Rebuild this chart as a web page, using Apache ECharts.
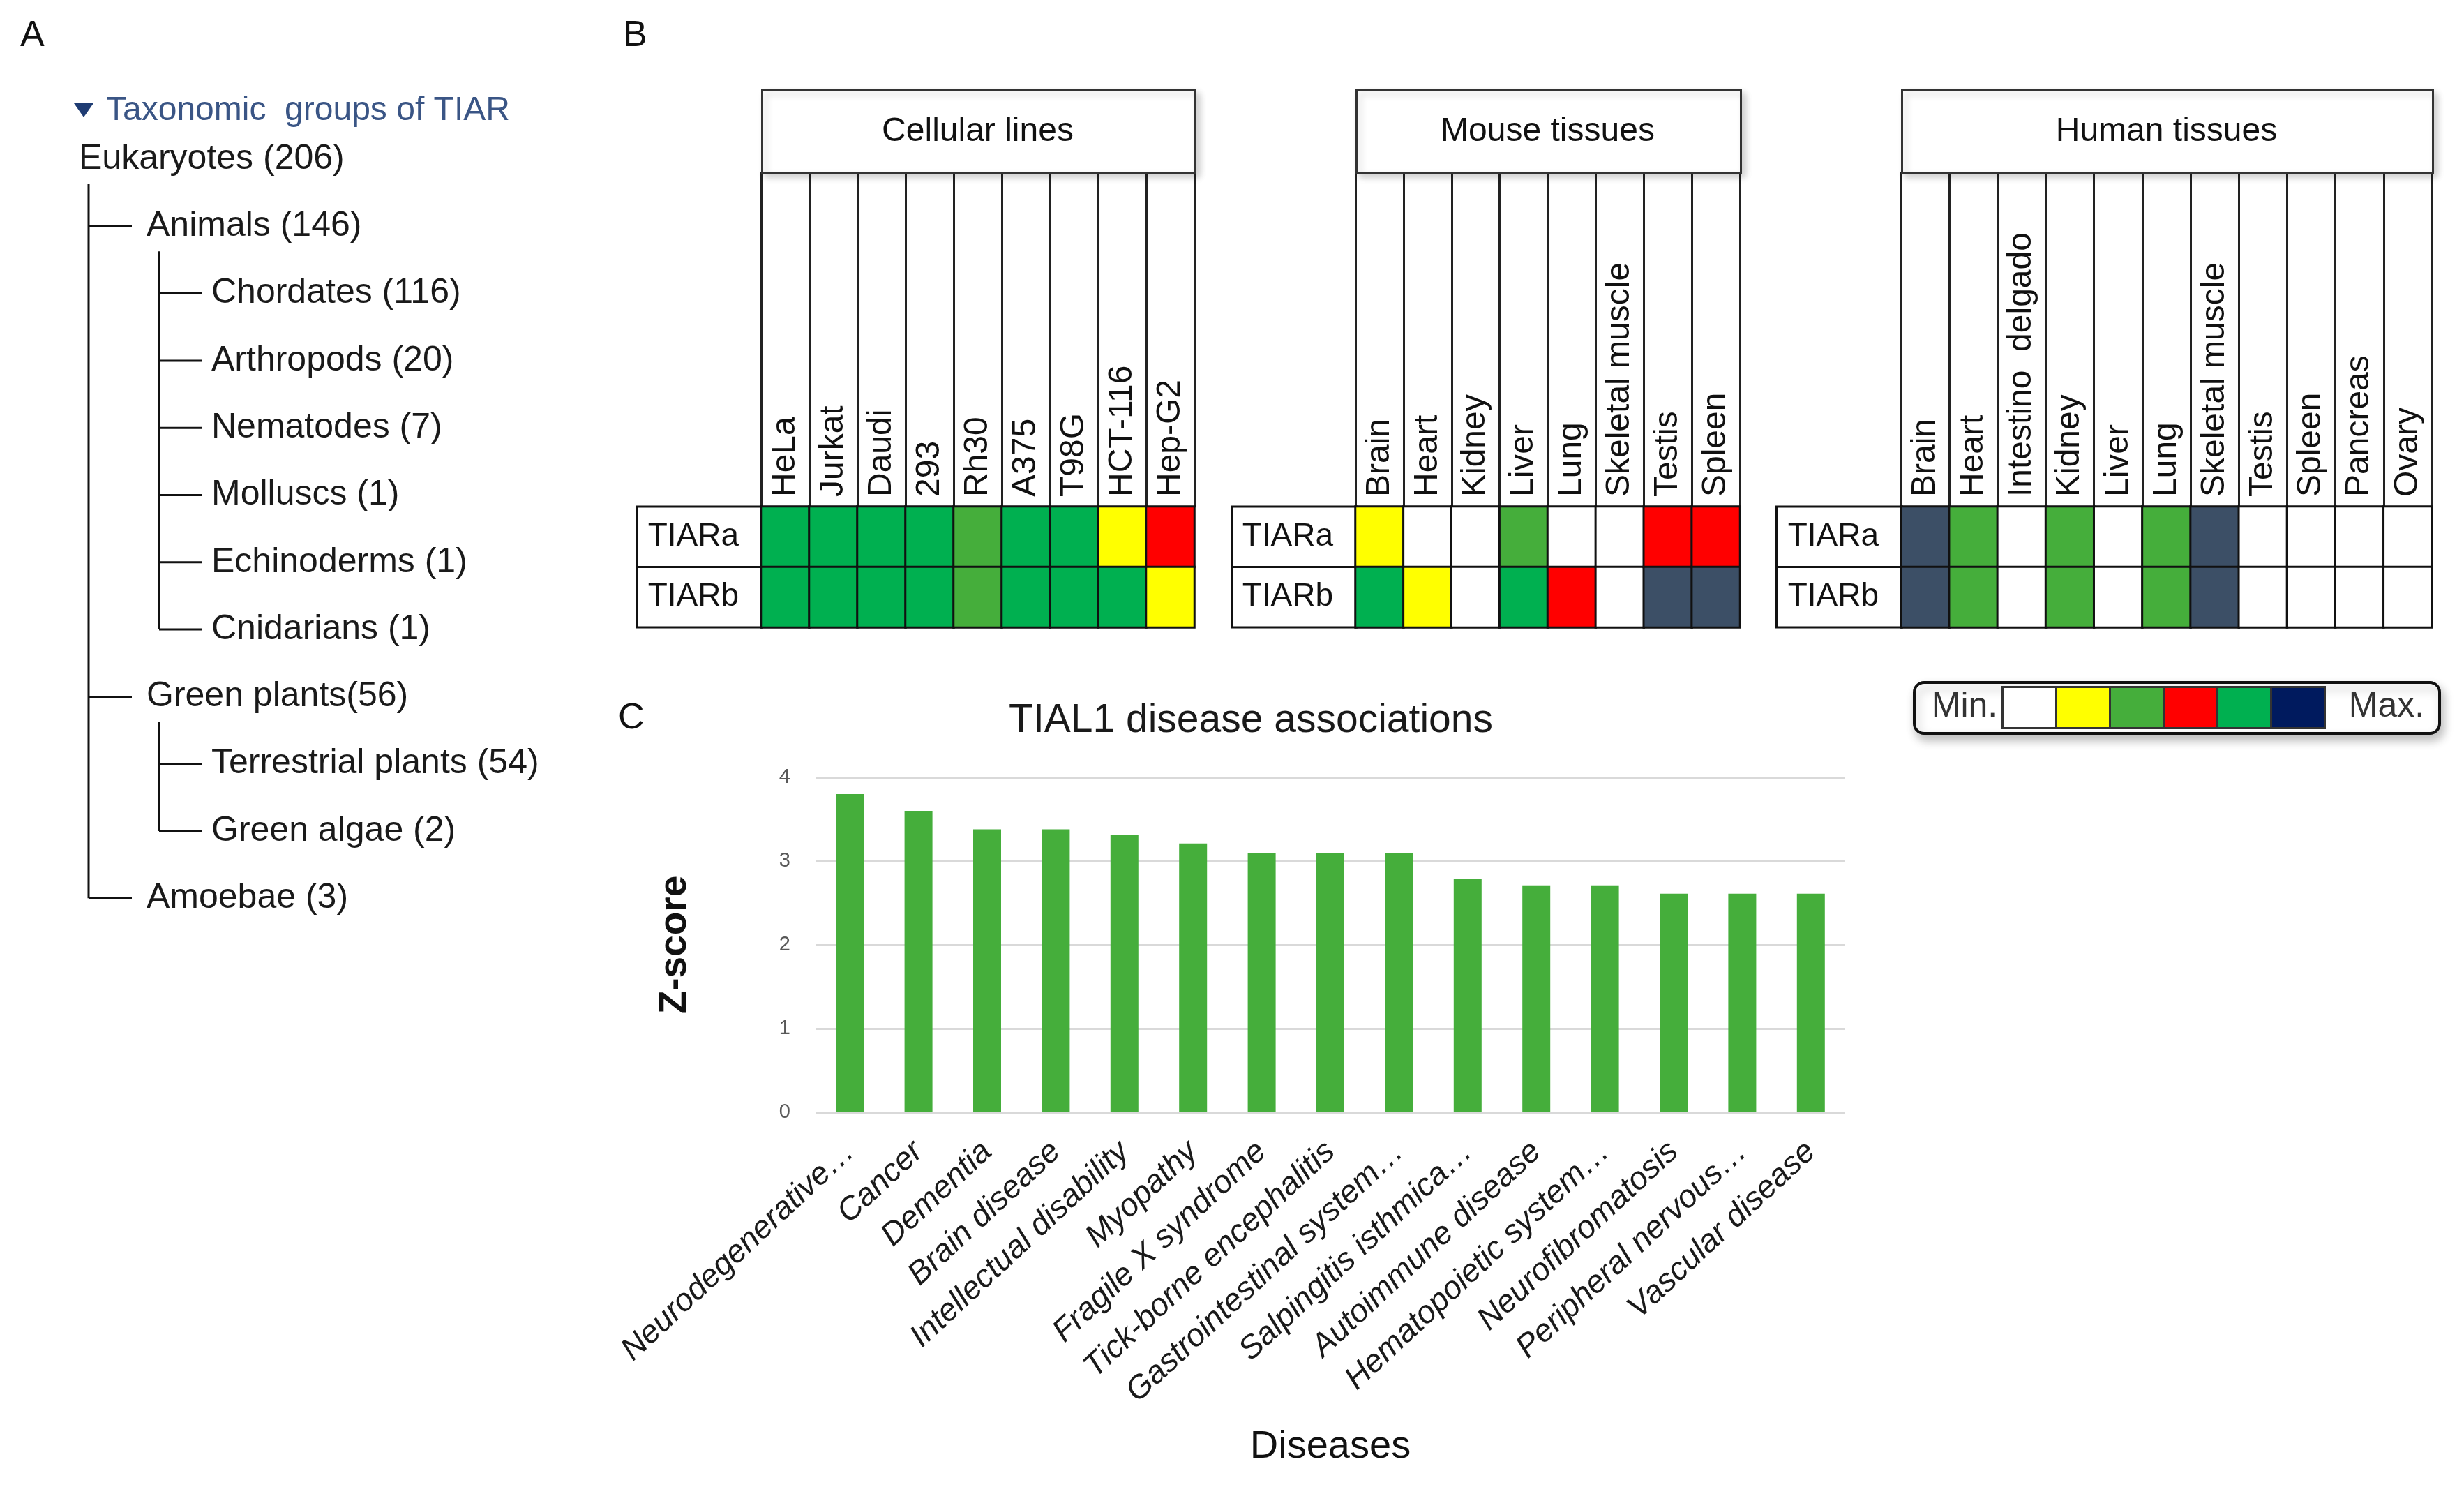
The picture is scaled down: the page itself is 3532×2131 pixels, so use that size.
<!DOCTYPE html>
<html>
<head>
<meta charset="utf-8">
<script src="https://cdn.jsdelivr.net/npm/echarts@6.0.0/dist/echarts.min.js"></script>
<style>
  html, body { margin: 0; padding: 0; background: #ffffff; }
  #chart { width: 3532px; height: 2131px; }
</style>
</head>
<body>
<div id="chart"></div>
<script>
// ---------------- DATA ----------------
// Panel A: taxonomic tree
const taxaNames  = ['Eukaryotes', 'Animals', 'Chordates', 'Arthropods', 'Nematodes', 'Molluscs', 'Echinoderms', 'Cnidarians', 'Green plants', 'Terrestrial plants', 'Green algae', 'Amoebae'];
const taxaCounts = [206, 146, 116, 20, 7, 1, 1, 1, 56, 54, 2, 3];
const taxaDepth  = [0, 1, 2, 2, 2, 2, 2, 2, 1, 2, 2, 1];
const treeTitle  = 'Taxonomic  groups of TIAR';

// Panel B: expression heatmaps (levels 0..5 -> Min..Max)
const isoforms = ['TIARa', 'TIARb'];
const cellLines = ['HeLa', 'Jurkat', 'Daudi', '293', 'Rh30', 'A375', 'T98G', 'HCT-116', 'Hep-G2'];
const cellTIARa = [4, 4, 4, 4, 2, 4, 4, 1, 3];
const cellTIARb = [4, 4, 4, 4, 2, 4, 4, 4, 1];
const mouseTissues = ['Brain', 'Heart', 'Kidney', 'Liver', 'Lung', 'Skeletal muscle', 'Testis', 'Spleen'];
const mouseTIARa = [1, 0, 0, 2, 0, 0, 3, 3];
const mouseTIARb = [4, 1, 0, 4, 3, 0, 5, 5];
const humanTissues = ['Brain', 'Heart', 'Intestino  delgado', 'Kidney', 'Liver', 'Lung', 'Skeletal muscle', 'Testis', 'Spleen', 'Pancreas', 'Ovary'];
const humanTIARa = [5, 2, 0, 2, 0, 2, 5, 0, 0, 0, 0];
const humanTIARb = [5, 2, 0, 2, 0, 2, 5, 0, 0, 0, 0];
const panelTitles = ['Cellular lines', 'Mouse tissues', 'Human tissues'];
const levelLabels = ['Min.', 'Max.'];

// Panel C: disease associations
const diseases = ['Neurodegenerative…', 'Cancer', 'Dementia', 'Brain disease', 'Intellectual disability', 'Myopathy', 'Fragile X syndrome', 'Tick-borne encephalitis', 'Gastrointestinal system…', 'Salpingitis isthmica…', 'Autoimmune disease', 'Hematopoietic system…', 'Neurofibromatosis', 'Peripheral nervous…', 'Vascular disease'];
const zScores = [3.80, 3.60, 3.38, 3.38, 3.31, 3.21, 3.10, 3.10, 3.10, 2.79, 2.71, 2.71, 2.61, 2.61, 2.61];
const yTicks = [0, 1, 2, 3, 4];

// ---------------- STYLE ----------------
const FONT = "'Liberation Sans', Arial, sans-serif";
const NARROW = "'Liberation Sans Narrow', 'Liberation Sans', Arial, sans-serif";
const cellColors = ['#FFFFFF', '#FFFF00', '#45AE3B', '#FF0000', '#00B050', '#3C4F66'];
const legendColors = ['#FFFFFF', '#FFFF00', '#45AE3B', '#FF0000', '#00B050', '#001A5E'];

const heatTop = 726, heatBottom = 899, labelTop = 246, headTop = 128;
const panels = [
  { cats: cellLines, a: cellTIARa, b: cellTIARb, left: 1091, right: 1712, labLeft: 914 },
  { cats: mouseTissues, a: mouseTIARa, b: mouseTIARb, left: 1943, right: 2494, labLeft: 1768 },
  { cats: humanTissues, a: humanTIARa, b: humanTIARb, left: 2725, right: 3486, labLeft: 2548 }
];

const grids = [], xAxes = [], yAxes = [], series = [], graphics = [];
const shadow = { shadowBlur: 10, shadowOffsetX: 5, shadowOffsetY: 5, shadowColor: 'rgba(0,0,0,0.18)' };

panels.forEach((p, i) => {
  const w = p.right - p.left;
  grids.push({ left: p.left, top: heatTop, width: w, height: heatBottom - heatTop, show: false });
  xAxes.push({
    type: 'category', gridIndex: i, position: 'top', data: p.cats,
    axisLine: { show: true, lineStyle: { color: '#000', width: 3 } },
    axisTick: { show: true, interval: 0, length: heatTop - labelTop, lineStyle: { color: '#222', width: 3 } },
    axisLabel: { interval: 0, rotate: -90, margin: 14, fontSize: 48, color: '#111', fontFamily: FONT },
    splitLine: { show: false }
  });
  const labW = p.left - p.labLeft;
  const rowH = (heatBottom - heatTop) / 2;
  yAxes.push({
    type: 'category', gridIndex: i, data: isoforms, inverse: true,
    axisLine: { show: true, lineStyle: { color: '#000', width: 3 } },
    axisTick: { show: false },
    axisLabel: {
      interval: 0, hideOverlap: false,
      margin: 0, fontSize: 46, color: '#111', fontFamily: FONT,
      width: labW - 44, height: rowH - 3, lineHeight: rowH - 3,
      padding: [0, 32, 0, 12], align: 'right',
      borderColor: '#111', borderWidth: 3, backgroundColor: '#fff'
    }
  });
  const data = [];
  p.cats.forEach((c, ci) => {
    data.push([ci, 0, p.a[ci]]);
    data.push([ci, 1, p.b[ci]]);
  });
  series.push({
    type: 'heatmap', xAxisIndex: i, yAxisIndex: i, data: data,
    itemStyle: { borderColor: '#111', borderWidth: 3 },
    emphasis: { disabled: true }
  });
  // header box
  graphics.push({
    type: 'rect', left: p.left, top: headTop,
    shape: { width: w, height: labelTop - headTop },
    style: Object.assign({ fill: '#fff', stroke: '#333', lineWidth: 3 }, shadow),
    z: 1
  });
  graphics.push({
    type: 'text', x: p.left + w / 2, y: (headTop + labelTop) / 2 + 2,
    style: { text: panelTitles[i], font: '48px ' + FONT, fill: '#111', align: 'center', verticalAlign: 'middle' },
    z: 2
  });
});

// bar chart grid
grids.push({ left: 1169, right: 3532 - 2645, top: 1114, bottom: 2131 - 1594 });
xAxes.push({
  type: 'category', gridIndex: 3, data: diseases,
  axisLine: { show: false }, axisTick: { show: false },
  axisLabel: { interval: 0, rotate: 43, margin: 50, fontSize: 46, fontStyle: 'italic', color: '#1a1a1a', fontFamily: FONT },
  name: 'Diseases', nameLocation: 'middle', nameGap: 452,
  nameTextStyle: { fontSize: 56, color: '#111', fontFamily: FONT }
});
yAxes.push({
  type: 'value', gridIndex: 3, min: yTicks[0], max: yTicks[yTicks.length - 1], interval: 1,
  axisLine: { show: false }, axisTick: { show: false },
  axisLabel: { margin: 36, fontSize: 29, color: '#595959', fontFamily: FONT },
  splitLine: { show: true, lineStyle: { color: '#D9D9D9', width: 3 } },
  name: 'Z-score', nameLocation: 'middle', nameGap: 174,
  nameTextStyle: { fontSize: 55, fontWeight: 'bold', color: '#111', fontFamily: FONT }
});
series.push({
  type: 'bar', xAxisIndex: 3, yAxisIndex: 3, data: zScores,
  barWidth: 40, itemStyle: { color: '#45AE3B' }, emphasis: { disabled: true }
});

// Panel letters
[['A', 29, 52], ['B', 893, 52], ['C', 886, 1030]].forEach(([t, x, y]) => {
  graphics.push({ type: 'text', x: x, y: y, style: { text: t, font: '52px ' + FONT, fill: '#111', verticalAlign: 'middle' } });
});

// Panel A tree (layout computed from depth list)
const rowY0 = 228, rowStep = 96.3;
const textX = [113, 210, 303];
const trunkX = [127, 228];
graphics.push({ type: 'polygon', shape: { points: [[106, 148], [134, 148], [120, 168]] }, style: { fill: '#1F3C73' } });
graphics.push({ type: 'text', x: 152, y: 159, style: { text: treeTitle, font: '48px ' + FONT, fill: '#3A5585', verticalAlign: 'middle' } });
taxaNames.forEach((n, i) => {
  const y = rowY0 + i * rowStep;
  const sep = n === 'Green plants' ? '' : ' ';
  graphics.push({ type: 'text', x: textX[taxaDepth[i]], y: y, style: { text: n + sep + '(' + taxaCounts[i] + ')', font: '50px ' + FONT, fill: '#1a1a1a', verticalAlign: 'middle' } });
  const d = taxaDepth[i];
  if (d > 0) {
    const tx = trunkX[d - 1];
    graphics.push({ type: 'line', shape: { x1: tx, y1: y, x2: tx + 62, y2: y }, style: { stroke: '#111', lineWidth: 3 } });
  }
});
// vertical trunks: for each node, line from below it to its last child
taxaNames.forEach((n, i) => {
  const d = taxaDepth[i];
  let last = -1;
  for (let j = i + 1; j < taxaNames.length && taxaDepth[j] > d; j++) {
    if (taxaDepth[j] === d + 1) last = j;
  }
  if (last > 0) {
    const tx = trunkX[d];
    graphics.push({ type: 'line', shape: { x1: tx, y1: rowY0 + i * rowStep + 36, x2: tx, y2: rowY0 + last * rowStep }, style: { stroke: '#111', lineWidth: 3 } });
  }
});

// Legend (Min .. Max)
const legL = 2742, legT = 976, legW = 753, legH = 73, boxW = 77, boxX0 = 2869;
graphics.push({ type: 'rect', left: legL, top: legT, shape: { width: legW, height: legH, r: 14 },
  style: { fill: '#fff', stroke: '#111', lineWidth: 4, shadowBlur: 14, shadowOffsetX: 4, shadowOffsetY: 8, shadowColor: 'rgba(0,0,0,0.25)' } });
legendColors.forEach((c, k) => {
  graphics.push({ type: 'rect', left: boxX0 + k * boxW, top: legT + 7, shape: { width: boxW, height: legH - 14 },
    style: { fill: c, stroke: '#333', lineWidth: 3 } });
});
graphics.push({ type: 'text', x: 2816, y: legT + legH / 2 + 1, style: { text: levelLabels[0], font: '50px ' + NARROW, fill: '#333', align: 'center', verticalAlign: 'middle' } });
graphics.push({ type: 'text', x: 3421, y: legT + legH / 2 + 1, style: { text: levelLabels[1], font: '50px ' + NARROW, fill: '#333', align: 'center', verticalAlign: 'middle' } });

const chart = echarts.init(document.getElementById('chart'), null, { renderer: 'canvas' });
chart.setOption({
  backgroundColor: '#ffffff',
  animation: false,
  textStyle: { fontFamily: FONT },
  title: {
    text: 'TIAL1 disease associations', left: 1788, top: 1000, textAlign: 'center',
    textStyle: { fontSize: 57, fontWeight: 'normal', color: '#1a1a1a', fontFamily: FONT }
  },
  visualMap: {
    type: 'piecewise', show: false, dimension: 2, seriesIndex: [0, 1, 2],
    pieces: cellColors.map((c, k) => ({ value: k, color: c }))
  },
  grid: grids,
  xAxis: xAxes,
  yAxis: yAxes,
  series: series,
  graphic: graphics
});
</script>
</body>
</html>
